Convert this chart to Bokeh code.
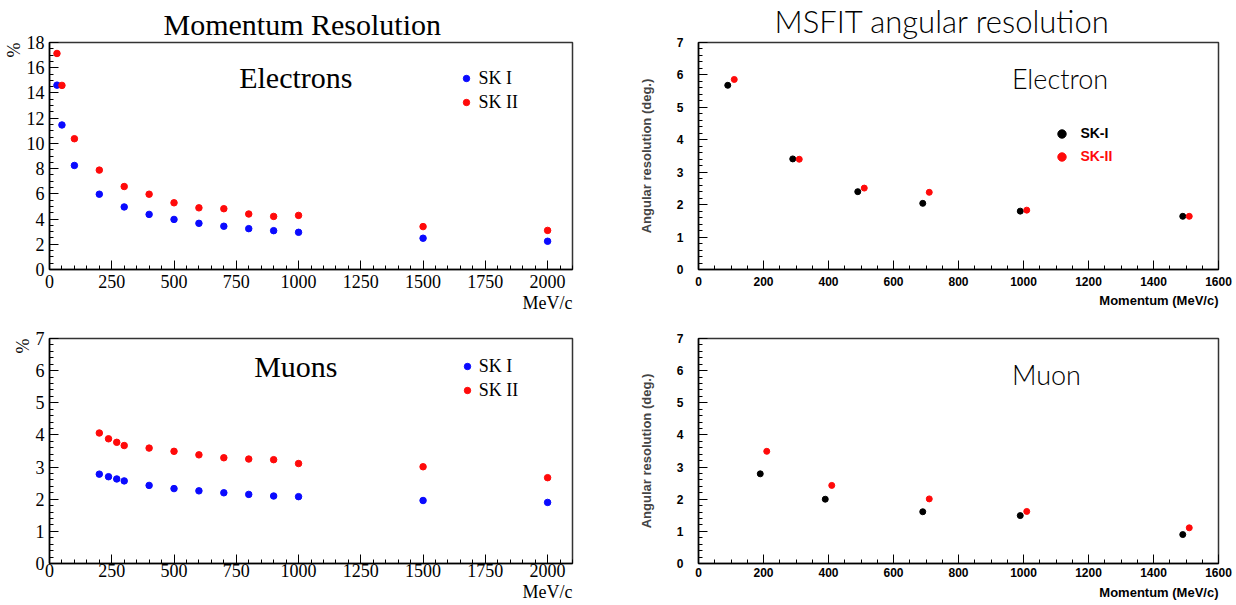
import math
from bokeh.plotting import figure
from bokeh.models import Range1d, SingleIntervalTicker, Label, Legend, LegendItem, Title
from bokeh.layouts import column, row
from bokeh.embed import file_html
from bokeh.resources import INLINE

# ---------------- data ----------------
mom_e_x = [30, 50, 100, 200, 300, 400, 500, 600, 700, 800, 900, 1000, 1500, 2000]
mom_e_sk1 = [14.62, 11.46, 8.25, 5.97, 4.96, 4.37, 3.97, 3.66, 3.43, 3.24, 3.08, 2.95, 2.48, 2.24]
mom_e_sk2 = [17.13, 14.6, 10.37, 7.88, 6.58, 5.97, 5.29, 4.89, 4.82, 4.4, 4.21, 4.29, 3.4, 3.1]

mom_mu_x = [200, 237, 270, 300, 400, 500, 600, 700, 800, 900, 1000, 1500, 2000]
mom_mu_sk1 = [2.78, 2.70, 2.63, 2.57, 2.43, 2.33, 2.26, 2.20, 2.15, 2.10, 2.08, 1.96, 1.90]
mom_mu_sk2 = [4.06, 3.88, 3.77, 3.67, 3.59, 3.49, 3.38, 3.29, 3.25, 3.23, 3.11, 3.01, 2.67]

ang_e_sk1_x = [90, 290, 490, 690, 990, 1490]
ang_e_sk1 = [5.68, 3.41, 2.40, 2.04, 1.80, 1.64]
ang_e_sk2_x = [110, 310, 510, 710, 1010, 1510]
ang_e_sk2 = [5.86, 3.40, 2.51, 2.38, 1.83, 1.64]

ang_mu_sk1_x = [190, 390, 690, 990, 1490]
ang_mu_sk1 = [2.79, 2.00, 1.61, 1.49, 0.90]
ang_mu_sk2_x = [210, 410, 710, 1010, 1510]
ang_mu_sk2 = [3.49, 2.43, 2.01, 1.62, 1.11]

series_left = ["SK I", "SK II"]
series_right = ["SK-I", "SK-II"]

# ---------------- styles ----------------
SERIF = "Liberation Serif"
SANS = "Liberation Sans"
THIN = "Lato Light, Lato, sans-serif"
BLUE = "#0a0aff"
RED = "#ff0a0a"
BLACK = "#000000"


def base_fig(width, height, left, right, top, bottom, xr, yr):
    p = figure(width=width, height=height,
               x_range=Range1d(*xr), y_range=Range1d(*yr),
               output_backend="svg", toolbar_location=None,
               min_border_left=left, min_border_right=right,
               min_border_top=top, min_border_bottom=bottom)
    p.xgrid.visible = False
    p.ygrid.visible = False
    p.outline_line_color = "#333333"
    p.outline_line_width = 1.5
    p.background_fill_color = "white"
    p.border_fill_color = "white"
    for ax in (p.xaxis[0], p.yaxis[0]):
        ax.major_tick_in = 9
        ax.major_tick_out = 0
        ax.minor_tick_in = 4
        ax.minor_tick_out = 0
        ax.axis_line_width = 1.5
        ax.axis_line_color = "black"
        ax.major_tick_line_color = "black"
        ax.minor_tick_line_color = "black"
        ax.major_tick_line_width = 1
        ax.minor_tick_line_width = 1
        ax.major_label_text_color = "black"
    return p


def lab(p, x, y, text, font, size, style="normal", align="left",
        baseline="middle", color="black"):
    p.add_layout(Label(x=x, y=y, x_units="screen", y_units="screen", text=text,
                       text_font=font, text_font_size=size, text_font_style=style,
                       text_align=align, text_baseline=baseline, text_color=color))


def side_title(p, text, place, font, size, style="normal", align="left",
               offset=0, standoff=0, valign="bottom"):
    p.add_layout(Title(text=text, align=align, offset=offset, standoff=standoff,
                       vertical_align=valign,
                       text_font=font, text_font_size=size, text_font_style=style,
                       text_color="black"), place)


def left_axes(p, y_interval, y_minor, tick_standoff, unit_standoff):
    p.xaxis[0].ticker = SingleIntervalTicker(interval=250, num_minor_ticks=5)
    p.yaxis[0].ticker = SingleIntervalTicker(interval=y_interval, num_minor_ticks=y_minor)
    for ax in (p.xaxis[0], p.yaxis[0]):
        ax.major_label_text_font = SERIF
        ax.major_label_text_font_size = "18px"
    p.xaxis[0].major_label_standoff = tick_standoff
    p.yaxis[0].major_label_standoff = 5
    side_title(p, "%", "left", SERIF, "18px", align="right", standoff=0)
    side_title(p, "MeV/c", "below", SERIF, "18px", align="right", standoff=unit_standoff)


def right_axes(p, tick_standoff, unit_standoff):
    p.xaxis[0].ticker = SingleIntervalTicker(interval=200, num_minor_ticks=4)
    p.yaxis[0].ticker = SingleIntervalTicker(interval=1, num_minor_ticks=5)
    for ax in (p.xaxis[0], p.yaxis[0]):
        ax.major_label_text_font = SANS
        ax.major_label_text_font_size = "12px"
        ax.major_label_text_font_style = "bold"
    p.xaxis[0].major_label_standoff = tick_standoff
    p.yaxis[0].major_label_standoff = 15
    p.yaxis[0].axis_label = "Angular resolution (deg.)"
    p.yaxis[0].axis_label_text_font = SANS
    p.yaxis[0].axis_label_text_font_size = "13px"
    p.yaxis[0].axis_label_text_font_style = "bold"
    p.yaxis[0].axis_label_standoff = 20
    side_title(p, "Momentum (MeV/c)", "below", SANS, "13px", style="bold",
               align="right", standoff=unit_standoff)


def left_legend(p, r1, r2, loc):
    leg = Legend(items=[LegendItem(label=series_left[0], renderers=[r1]),
                        LegendItem(label=series_left[1], renderers=[r2])],
                 location=loc, glyph_width=16, glyph_height=24, label_height=24,
                 label_standoff=4, spacing=0, padding=0, margin=0,
                 border_line_alpha=0, background_fill_alpha=0,
                 label_text_font=SERIF, label_text_font_size="18px",
                 label_text_color="black")
    p.add_layout(leg)


def right_legend(p, r, label, color, loc):
    leg = Legend(items=[LegendItem(label=label, renderers=[r])],
                 location=loc, glyph_width=21, glyph_height=23, label_height=23,
                 label_standoff=8, spacing=0, padding=0, margin=0,
                 border_line_alpha=0, background_fill_alpha=0,
                 label_text_font=SANS, label_text_font_size="14px",
                 label_text_font_style="bold", label_text_color=color)
    p.add_layout(leg)


# ---------------- top-left: electrons momentum resolution ----------------
p1 = base_fig(620, 312, 49, 48, 42, 43, (0, 2100), (0, 18))
side_title(p1, "Momentum Resolution", "above", SERIF, "30px", align="left",
           offset=114, standoff=0, valign="top")
left_axes(p1, 2, 4, 5, 0)
r1a = p1.scatter(mom_e_x, mom_e_sk1, size=6.5, color=BLUE)
r1b = p1.scatter(mom_e_x, mom_e_sk2, size=6.5, color=RED)
left_legend(p1, r1a, r1b, (409.4, 154.7))
lab(p1, 246.3, 192.4, "Electrons", SERIF, "30px", align="center")

# ---------------- top-right: electron angular resolution ----------------
p2 = base_fig(616, 312, 78, 18, 42, 43, (0, 1600), (0, 7))
side_title(p2, "MSFIT angular resolution", "above", THIN, "31px", align="left",
           offset=76, standoff=2, valign="top")
right_axes(p2, 7, 4)
r2a = p2.scatter(ang_e_sk1_x, ang_e_sk1, size=6, color=BLACK)
r2b = p2.scatter(ang_e_sk2_x, ang_e_sk2, size=6, color=RED)
right_legend(p2, r2a, series_right[0], BLACK, (353.4, 124.1))
right_legend(p2, r2b, series_right[1], RED, (353.4, 101.5))
lab(p2, 313.4, 190.8, "Electron", THIN, "27px", align="left")

# ---------------- bottom-left: muons momentum resolution ----------------
p3 = base_fig(620, 293, 49, 48, 26, 39, (0, 2100), (0, 7))
left_axes(p3, 1, 5, 0, 0)
r3a = p3.scatter(mom_mu_x, mom_mu_sk1, size=6.5, color=BLUE)
r3b = p3.scatter(mom_mu_x, mom_mu_sk2, size=6.5, color=RED)
left_legend(p3, r3a, r3b, (409.7, 161))
lab(p3, 246.3, 197, "Muons", SERIF, "30px", align="center")

# ---------------- bottom-right: muon angular resolution ----------------
p4 = base_fig(616, 293, 78, 18, 23, 42, (0, 1600), (0, 7))
right_axes(p4, 4, 7)
p4.scatter(ang_mu_sk1_x, ang_mu_sk1, size=6, color=BLACK)
p4.scatter(ang_mu_sk2_x, ang_mu_sk2, size=6, color=RED)
lab(p4, 313.4, 189.3, "Muon", THIN, "27px", align="left")

layout = column(row(p1, p2, spacing=0), row(p3, p4, spacing=0), spacing=0)

open("out.html", "w").write(file_html(layout, INLINE, title="Resolution"))
